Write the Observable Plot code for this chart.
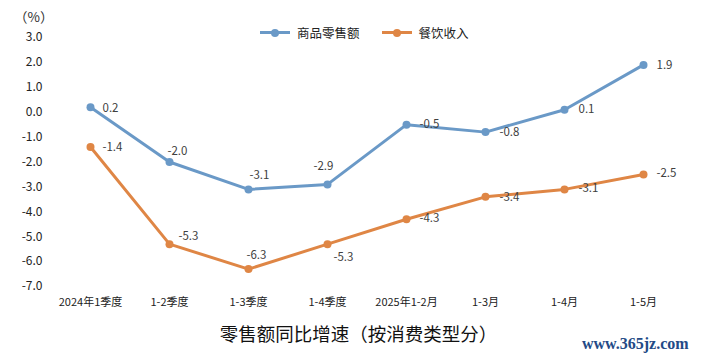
<!DOCTYPE html>
<html>
<head>
<meta charset="utf-8">
<script src="https://cdn.jsdelivr.net/npm/d3@7"></script>
<script src="https://cdn.jsdelivr.net/npm/@observablehq/plot@0.6"></script>
<style>
  html, body { margin: 0; padding: 0; background: #fff; }
  #wrap { position: relative; width: 705px; height: 360px; overflow: hidden; font-family: "Noto Sans CJK SC", "Noto Sans", sans-serif; }
  #chart svg { display: block; }
  .abs { position: absolute; white-space: nowrap; }
  #unit { left: 14px; top: 9px; font-size: 13.5px; line-height: 14px; height: 14px; color: #333; }
  #legend { left: 260px; top: 23px; font-size: 12.5px; color: #222; display: flex; align-items: center; }
  .lg-item { display: flex; align-items: center; margin-right: 22px; }
  .lg-sym { position: relative; width: 30px; height: 10px; margin-right: 7px; }
  .lg-sym .ln { position: absolute; left: 0; top: 3.5px; width: 30px; height: 3px; }
  .lg-sym .dt { position: absolute; left: 11px; top: 1px; width: 8px; height: 8px; border-radius: 50%; }
  #title { left: 6px; width: 705px; top: 320px; text-align: center; font-size: 18.5px; color: #111; }
  #wm { left: 582px; top: 335px; font-size: 16px; color: #234a86; font-family: "Liberation Serif", "DejaVu Serif", serif; font-weight: bold; }
</style>
</head>
<body>
<div id="wrap">
  <div id="chart"></div>
  <div id="unit" class="abs">（%）</div>
  <div id="legend" class="abs"></div>
  <div id="title" class="abs">零售额同比增速（按消费类型分）</div>
  <div id="wm" class="abs">www.365jz.com</div>
</div>
<script>
const categories = ["2024年1季度", "1-2季度", "1-3季度", "1-4季度", "2025年1-2月", "1-3月", "1-4月", "1-5月"];
const seriesNames = ["商品零售额", "餐饮收入"];
const goodsRetail = [0.2, -2.0, -3.1, -2.9, -0.5, -0.8, 0.1, 1.9];
const catering = [-1.4, -5.3, -6.3, -5.3, -4.3, -3.4, -3.1, -2.5];
const yTicks = [3, 2, 1, 0, -1, -2, -3, -4, -5, -6, -7];

const colors = ["#6a99c7", "#df8645"];

// label offsets (layout only)
const labelOffsets = [
  [[12, 1], [-2, -11], [1, -14], [-14, -18], [13, 0], [14, 0], [14, 0], [13, 0]],
  [[12, 0], [9, -8], [-2, -14], [6, 13], [13, -1], [14, 0], [14, -1], [13, -1]]
];

const rows = [];
[goodsRetail, catering].forEach((vals, s) => {
  vals.forEach((v, i) => rows.push({series: seriesNames[s], cat: categories[i], value: v, s, i}));
});

const marks = [
  Plot.axisY({ticks: yTicks, tickFormat: d => d.toFixed(1), tickSize: 0, tickPadding: 8, fontSize: 12, fill: "#222", label: null}),
  Plot.axisX({tickSize: 0, tickPadding: 12, fontSize: 11, fill: "#222", label: null}),
  Plot.line(rows, {x: "cat", y: "value", z: "series", stroke: "series", strokeWidth: 3, strokeLinejoin: "round"}),
  Plot.dot(rows, {x: "cat", y: "value", fill: "series", r: 4})
];
rows.forEach(d => {
  const [dx, dy] = labelOffsets[d.s][d.i];
  marks.push(Plot.text([d], {x: "cat", y: "value", text: r => r.value.toFixed(1), dx, dy, textAnchor: "start", fontSize: 11.5, fill: "#404040"}));
});

const chart = Plot.plot({
  width: 705,
  height: 360,
  marginLeft: 50,
  marginRight: 22,
  marginTop: 37,
  marginBottom: 74,
  style: {fontFamily: "'Noto Sans CJK SC', 'Noto Sans', sans-serif", background: "transparent"},
  x: {type: "point", domain: categories, padding: 0.5},
  y: {domain: [-7, 3]},
  color: {domain: seriesNames, range: colors},
  marks
});
document.getElementById("chart").appendChild(chart);

const legend = document.getElementById("legend");
seriesNames.forEach((n, k) => {
  const item = document.createElement("div");
  item.className = "lg-item";
  item.innerHTML = `<div class="lg-sym"><div class="ln" style="background:${colors[k]}"></div><div class="dt" style="background:${colors[k]}"></div></div><span>${n}</span>`;
  legend.appendChild(item);
});
</script>
</body>
</html>
